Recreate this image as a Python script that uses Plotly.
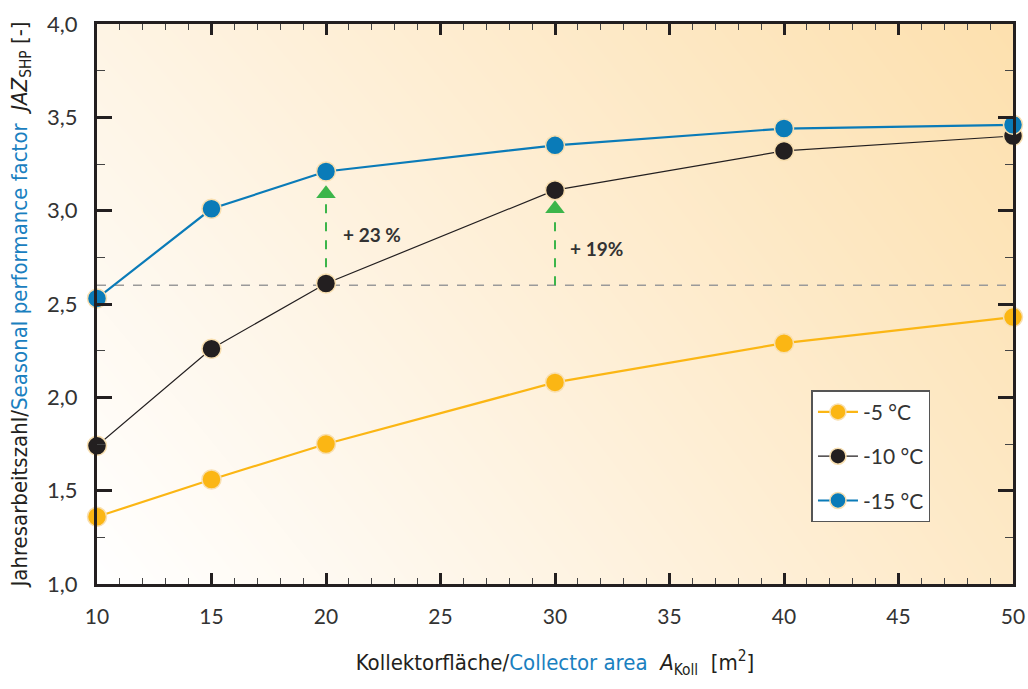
import plotly.graph_objects as go

area = [10, 15, 20, 30, 40, 50]
jaz_m5 = [1.36, 1.56, 1.75, 2.08, 2.29, 2.43]
jaz_m10 = [1.74, 2.26, 2.61, 3.11, 3.32, 3.40]
jaz_m15 = [2.53, 3.01, 3.21, 3.35, 3.44, 3.46]
series_names = ["-5 °C", "-10 °C", "-15 °C"]
series_colors = ["#fbb614", "#231f20", "#0a7bb8"]
line_widths = [2.2, 1.2, 2.2]

ref_level = 2.6
arrow_x = [20, 30]
arrow_tip = [3.09, 3.01]
arrow_labels = ["+ 23 %", "+ 19%"]
label_pos = [(22.0, 2.87), (31.8, 2.80)]

TITLE_FONT = "DejaVu Sans Condensed, Roboto, sans-serif"

fig = go.Figure()

# background gradient
fig.add_trace(go.Heatmap(
    x=[10, 50], y=[1, 4], z=[[0.0, 0.7], [0.35, 1.0]],
    zsmooth="best", showscale=False, hoverinfo="skip",
    colorscale=[[0, "#ffffff"], [0.35, "#fef4e4"], [1, "#fde0ae"]],
    zmin=0, zmax=1,
))

# reference dashed line
fig.add_trace(go.Scatter(x=[area[0], area[-1]], y=[ref_level, ref_level], mode="lines",
                         line=dict(color="#9a9a9a", width=1.5, dash="dash"),
                         showlegend=False, hoverinfo="skip"))
# green arrows
for ax, tip in zip(arrow_x, arrow_tip):
    fig.add_trace(go.Scatter(x=[ax, ax], y=[ref_level, tip - 0.05], mode="lines",
                             line=dict(color="#3cb54a", width=2, dash="dash"),
                             showlegend=False, hoverinfo="skip"))
    fig.add_trace(go.Scatter(x=[ax], y=[tip], mode="markers",
                             marker=dict(symbol="triangle-up", size=17, color="#3cb54a"),
                             showlegend=False, hoverinfo="skip"))

for i, (name, vals, col, lw) in enumerate(zip(series_names, [jaz_m5, jaz_m10, jaz_m15], series_colors, line_widths)):
    fig.add_trace(go.Scatter(
        x=area, y=vals, name=name, mode="lines+markers", legendgroup=f"g{i}",
        line=dict(color=col, width=lw), cliponaxis=False,
        marker=dict(size=19, color=col, line=dict(color="#f8dfb0", width=1.5)),
    ))

for (lx, ly), txt in zip(label_pos, arrow_labels):
    fig.add_annotation(x=lx, y=ly, text=txt, showarrow=False,
                       font=dict(family="Lato", size=19, color="#333333", weight="bold"))

fig.update_layout(
    width=1028, height=689,
    margin=dict(l=97, r=15, t=24, b=105, autoexpand=False),
    paper_bgcolor="white", plot_bgcolor="white",
    separators=",.",
    font=dict(family="Lato", color="#333333"),
    legend=dict(x=0.78, y=0.346, xanchor="left", yanchor="top",
                bgcolor="white", bordercolor="#555555", borderwidth=1.5,
                font=dict(family="Lato", size=21, color="#333333"),
                itemwidth=40, tracegroupgap=14),
    showlegend=True,
)

fig.update_xaxes(
    range=[10, 50], tickvals=[10, 15, 20, 25, 30, 35, 40, 45, 50],
    ticks="inside", ticklen=11, tickwidth=2.5, tickcolor="#231f20",
    minor=dict(dtick=1, ticks="inside", ticklen=6, tickwidth=1.2, tickcolor="#444444"),
    showline=True, linewidth=3, linecolor="#231f20", mirror="allticks",
    showgrid=False, zeroline=False, automargin=False,
    tickfont=dict(family="Lato", size=21, color="#333333"),
    ticklabelstandoff=12,
    title=dict(text="Kollektorfläche/<span style='color:#1a80bf'>Collector area</span>  <i>A</i><sub>Koll</sub>  [m<sup>2</sup>]",
               font=dict(family=TITLE_FONT, size=22, color="#231f20"), standoff=28),
)
fig.update_yaxes(
    range=[1, 4], tickvals=[1, 1.5, 2, 2.5, 3, 3.5, 4], tickformat=".1f",
    ticks="inside", ticklen=15, tickwidth=2.5, tickcolor="#231f20",
    minor=dict(dtick=0.25, ticks="inside", ticklen=8, tickwidth=1.2, tickcolor="#444444"),
    showline=True, linewidth=3, linecolor="#231f20", mirror="allticks",
    showgrid=False, zeroline=False, automargin=False,
    tickfont=dict(family="Lato", size=22, color="#333333"),
    ticklabelstandoff=12,
    title=dict(text="Jahresarbeitszahl/<span style='color:#1a80bf'>Seasonal performance factor</span>  <i>JAZ</i><sub>SHP</sub> [-]",
               font=dict(family=TITLE_FONT, size=22, color="#231f20"), standoff=14),
)

fig.write_html("out.html", config={"displayModeBar": False},
               post_script="document.body.style.margin='0';document.body.style.overflow='hidden';")
